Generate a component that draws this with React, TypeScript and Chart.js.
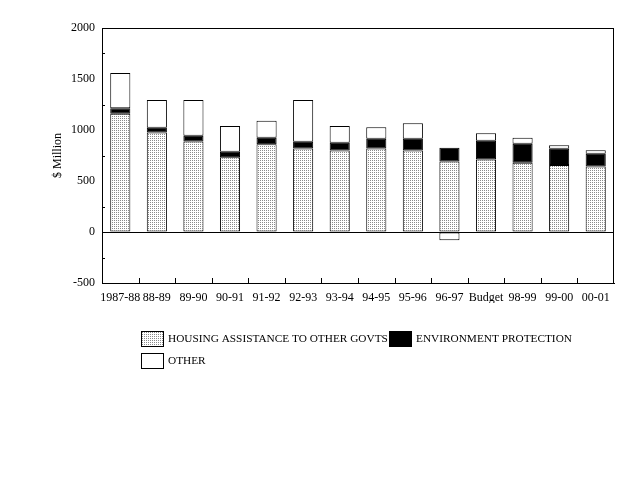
import React, { useEffect, useRef } from "react";
import { Chart, registerables } from "chart.js";

Chart.register(...registerables);

const years = [
  "1987-88", "88-89", "89-90", "90-91", "91-92", "92-93", "93-94",
  "94-95", "95-96", "96-97", "Budget", "98-99", "99-00", "00-01",
];
const housing = [1159, 975, 887, 733, 861, 818, 799, 818, 799, 691, 710, 678, 658, 642];
const environment = [55, 46, 56, 53, 62, 66, 75, 95, 114, 134, 184, 186, 157, 124];
const other = [344, 272, 350, 252, 167, 409, 164, 115, 154, -82, 75, 59, 36, 36];
const yTicks = [-500, 0, 500, 1000, 1500, 2000];

const FONT = "'Liberation Serif', 'Times New Roman', serif";

function dotPattern(): CanvasPattern | string {
  const c = document.createElement("canvas");
  c.width = 2;
  c.height = 2;
  const g = c.getContext("2d");
  if (!g) return "#ccc";
  g.fillStyle = "#fff";
  g.fillRect(0, 0, 2, 2);
  g.fillStyle = "#8a8a8a";
  g.fillRect(0, 0, 1, 1);
  return g.createPattern(c, "repeat") || "#ccc";
}

const framePlugin = {
  id: "frame",
  afterDraw(chart: any) {
    const { ctx, chartArea, scales } = chart;
    const { left, right, top, bottom } = chartArea;
    ctx.save();
    ctx.strokeStyle = "#000";
    ctx.lineWidth = 1;
    ctx.strokeRect(left + 0.5, top + 0.5, right - left - 1, bottom - top);

    // x tick marks between categories, pointing up into the plot
    const xs = scales.x;
    ctx.beginPath();
    for (let i = 1; i < years.length; i++) {
      const x = Math.round((xs.getPixelForValue(i - 1) + xs.getPixelForValue(i)) / 2) + 0.5;
      ctx.moveTo(x, bottom);
      ctx.lineTo(x, bottom - 5);
    }
    // y minor tick marks inside the plot
    const ys = scales.y;
    ys.ticks.forEach((t: any) => {
      if (yTicks.includes(t.value)) return;
      const y = Math.round(ys.getPixelForValue(t.value)) + 0.5;
      ctx.moveTo(left, y);
      ctx.lineTo(left + 3, y);
    });
    ctx.stroke();

    // legend
    const ds = chart.data.datasets;
    const items = [
      { d: ds[0], x: 141, y: 331 },
      { d: ds[1], x: 389, y: 331 },
      { d: ds[2], x: 141, y: 353 },
    ];
    ctx.font = `11.3px ${FONT}`;
    ctx.textBaseline = "middle";
    ctx.textAlign = "left";
    items.forEach(({ d, x, y }) => {
      ctx.fillStyle = d.backgroundColor;
      ctx.fillRect(x, y, 22, 15);
      ctx.strokeStyle = "#000";
      ctx.strokeRect(x + 0.5, y + 0.5, 22, 15);
      ctx.fillStyle = "#000";
      ctx.fillText(d.label, x + 27, y + 8);
    });
    ctx.restore();
  },
};

const App: React.FC = () => {
  const chartRef = useRef<HTMLCanvasElement | null>(null);
  const chartInstance = useRef<Chart | null>(null);

  useEffect(() => {
    if (!chartRef.current) return;
    if (chartInstance.current) chartInstance.current.destroy();
    const ctx = chartRef.current.getContext("2d");
    if (!ctx) return;

    const common = { borderColor: "#000", borderWidth: 1, borderSkipped: false as const };

    chartInstance.current = new Chart(ctx, {
      type: "bar",
      data: {
        labels: years,
        datasets: [
          { label: "HOUSING ASSISTANCE TO OTHER GOVTS", data: housing, backgroundColor: dotPattern() as any, ...common },
          { label: "ENVIRONMENT PROTECTION", data: environment, backgroundColor: "#000", ...common },
          { label: "OTHER", data: other, backgroundColor: "#fff", ...common },
        ],
      },
      plugins: [framePlugin],
      options: {
        responsive: false,
        animation: false,
        events: [],
        layout: { padding: { left: 0, right: 26, top: 28, bottom: 177 } },
        datasets: { bar: { categoryPercentage: 1, barPercentage: 0.55 } },
        plugins: { legend: { display: false }, tooltip: { enabled: false }, title: { display: false } },
        scales: {
          x: {
            stacked: true,
            grid: { display: false },
            border: { display: true, color: "#000" },
            ticks: {
              color: "#000",
              font: { family: FONT, size: 12 },
              autoSkip: false,
              maxRotation: 0,
              padding: 0,
            },
            afterFit: (s: any) => {
              s.height = 20;
            },
          },
          y: {
            stacked: true,
            min: -500,
            max: 2000,
            grid: {
              drawTicks: false,
              color: (c: any) => (c.tick && c.tick.value === 0 ? "#000" : "rgba(0,0,0,0)"),
            },
            border: { display: true, color: "#000" },
            ticks: {
              stepSize: 250,
              autoSkip: false,
              color: "#000",
              padding: 7,
              font: { family: FONT, size: 12 },
              callback: (v: any) => (yTicks.includes(Number(v)) ? String(v) : ""),
            },
            title: {
              display: true,
              text: "$ Million",
              color: "#000",
              font: { family: FONT, size: 12 },
              padding: { top: 51, bottom: 0 },
            },
            afterFit: (s: any) => {
              s.width = 102;
            },
          },
        },
      },
    });

    return () => {
      if (chartInstance.current) {
        chartInstance.current.destroy();
        chartInstance.current = null;
      }
    };
  }, []);

  return (
    <div style={{ position: "fixed", left: 0, top: 0, width: 640, height: 480, background: "#fff" }}>
      <canvas ref={chartRef} width={640} height={480}></canvas>
    </div>
  );
};

export default App;
